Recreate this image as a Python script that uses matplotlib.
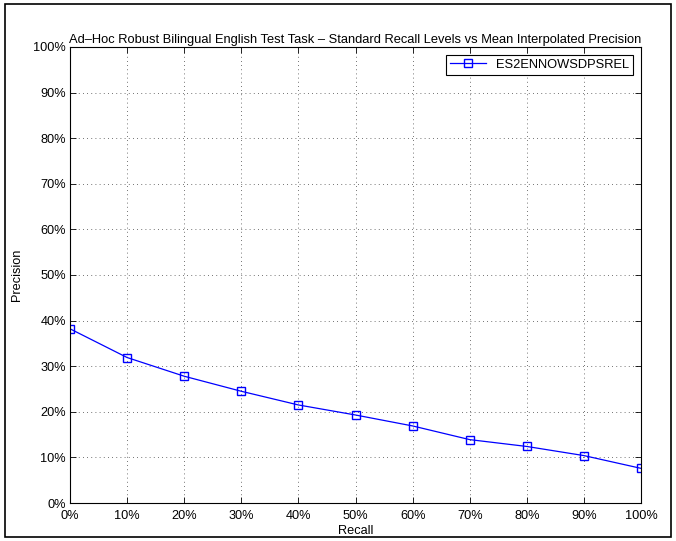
import matplotlib
matplotlib.use("Agg")
import matplotlib.pyplot as plt
from matplotlib.patches import Rectangle
from matplotlib.ticker import FuncFormatter

recall = [0, 10, 20, 30, 40, 50, 60, 70, 80, 90, 100]
precision = [38.2, 31.9, 27.8, 24.5, 21.5, 19.3, 16.9, 13.9, 12.4, 10.4, 7.6]
series_name = "ES2ENNOWSDPSREL"
title = "Ad\u2013Hoc Robust Bilingual English Test Task \u2013 Standard Recall Levels vs Mean Interpolated Precision"

plt.rcParams['font.family'] = ['Liberation Sans', 'DejaVu Sans']
plt.rcParams['font.size'] = 9.2

fig = plt.figure(figsize=(6.76, 5.41), dpi=100)
fig.patches.append(Rectangle((0.008, 0.008), 0.984, 0.984, transform=fig.transFigure,
                             fill=False, edgecolor='black', linewidth=1.2))
ax = fig.add_axes([0.1036, 0.0702, 0.8447, 0.843])
ax.plot(recall, precision, color='blue', marker='s', markersize=5.5,
        markerfacecolor='none', markeredgecolor='blue', linewidth=0.9, label=series_name)
ax.set_xlim(0, 100)
ax.set_ylim(0, 100)
ax.set_xticks(range(0, 101, 10))
ax.set_yticks(range(0, 101, 10))
fmt = FuncFormatter(lambda v, p: f"{int(v)}%")
ax.xaxis.set_major_formatter(fmt)
ax.yaxis.set_major_formatter(fmt)
ax.tick_params(direction='in', top=True, right=True, length=4, width=0.6, colors='black')
ax.tick_params(axis='x', pad=5)
ax.tick_params(axis='y', pad=3)
ax.grid(True, linestyle=(0, (1, 4)), color='#444444', linewidth=0.6)
for s in ax.spines.values():
    s.set_linewidth(0.8)
ax.set_xlabel("Recall", labelpad=2)
ax.set_ylabel("Precision", labelpad=7)
ax.set_title(title, fontsize=9.3, pad=3)
leg = ax.legend(loc='upper right', fancybox=False, framealpha=1, edgecolor='black',
                borderaxespad=0.6, handlelength=2.8, borderpad=0.3, fontsize=9.3)
leg.get_frame().set_linewidth(0.8)
fig.savefig("out.png", dpi=100)
